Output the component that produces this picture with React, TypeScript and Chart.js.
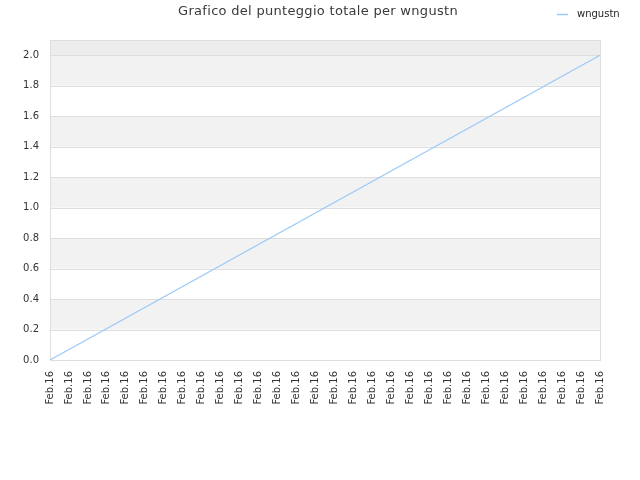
import { useEffect, useRef } from 'react';
import { Chart, registerables } from 'chart.js';

Chart.register(...registerables);

const chartTitle = 'Grafico del punteggio totale per wngustn';
const seriesName = 'wngustn';
const dateLabels = Array(30).fill('Feb.16');
// only the first and last scores are known, the line joins them
const scores: (number | null)[] = [0, ...Array(28).fill(null), 2];
const yTicks = [0, 0.2, 0.4, 0.6, 0.8, 1.0, 1.2, 1.4, 1.6, 1.8, 2.0];
const yMax = 2.1;

const lineColor = '#99c9f7';

const decorPlugin = {
  id: 'decor',
  beforeDatasetsDraw(chart: any) {
    const { ctx, chartArea, scales } = chart;
    const y = scales.y;
    ctx.save();
    // alternating bands
    for (let i = 0; i < yTicks.length - 1; i++) {
      if (i % 2 === 1) {
        const top = y.getPixelForValue(yTicks[i + 1]);
        const bottom = y.getPixelForValue(yTicks[i]);
        ctx.fillStyle = '#f2f2f2';
        ctx.fillRect(chartArea.left, top, chartArea.right - chartArea.left, bottom - top);
      }
    }
    const topBand = y.getPixelForValue(yTicks[yTicks.length - 1]);
    ctx.fillStyle = '#ededed';
    ctx.fillRect(chartArea.left, chartArea.top, chartArea.right - chartArea.left, topBand - chartArea.top);
    // grid lines
    ctx.strokeStyle = '#dedede';
    ctx.lineWidth = 1;
    for (const v of yTicks) {
      const py = Math.round(y.getPixelForValue(v)) + 0.5;
      ctx.beginPath();
      ctx.moveTo(chartArea.left, py);
      ctx.lineTo(chartArea.right, py);
      ctx.stroke();
    }
    ctx.strokeRect(
      Math.round(chartArea.left) + 0.5,
      Math.round(chartArea.top) + 0.5,
      Math.round(chartArea.right - chartArea.left),
      Math.round(chartArea.bottom - chartArea.top)
    );
    ctx.restore();
  },
  afterDraw(chart: any) {
    const { ctx } = chart;
    ctx.save();
    ctx.fillStyle = '#3a3a3a';
    ctx.font = '13px "DejaVu Sans"';
    ctx.letterSpacing = '0.3px';
    ctx.textAlign = 'center';
    ctx.textBaseline = 'middle';
    ctx.fillText(chartTitle, 318, 12);
    ctx.letterSpacing = '0px';
    // legend
    ctx.strokeStyle = lineColor;
    ctx.lineWidth = 1.5;
    ctx.beginPath();
    ctx.moveTo(557, 14.5);
    ctx.lineTo(568, 14.5);
    ctx.stroke();
    ctx.font = '10px "DejaVu Sans"';
    ctx.textAlign = 'left';
    ctx.fillStyle = '#222222';
    ctx.fillText(seriesName, 577, 14);
    ctx.restore();
  },
};

const App = () => {
  const canvasRef = useRef<HTMLCanvasElement | null>(null);
  const chartRef = useRef<Chart | null>(null);

  useEffect(() => {
    if (!canvasRef.current) return;
    if (chartRef.current) chartRef.current.destroy();

    chartRef.current = new Chart(canvasRef.current, {
      type: 'line',
      data: {
        labels: dateLabels,
        datasets: [
          {
            label: seriesName,
            data: scores,
            borderColor: lineColor,
            borderWidth: 1.2,
            pointRadius: 0,
            spanGaps: true,
            tension: 0,
          },
        ],
      },
      options: {
        animation: false,
        responsive: false,
        devicePixelRatio: 1,
        layout: { padding: { top: 40, right: 40, left: 0, bottom: 0 } },
        plugins: {
          legend: { display: false },
          title: { display: false },
          tooltip: { enabled: false },
        },
        scales: {
          x: {
            grid: { display: false, drawTicks: false },
            border: { display: false },
            ticks: {
              autoSkip: false,
              maxRotation: 90,
              minRotation: 90,
              padding: 11,
              color: '#333333',
              font: { family: 'DejaVu Sans', size: 10 },
            },
            afterFit: (s: any) => {
              s.height = 120;
            },
          },
          y: {
            min: 0,
            max: yMax,
            grid: { display: false, drawTicks: false },
            border: { display: false },
            ticks: {
              stepSize: 0.2,
              padding: 11,
              color: '#333333',
              font: { family: 'DejaVu Sans', size: 10 },
              callback: (v: any) => Number(v).toFixed(1),
            },
            afterBuildTicks: (s: any) => {
              s.ticks = yTicks.map((v) => ({ value: v }));
            },
            afterFit: (s: any) => {
              s.width = 50;
            },
          },
        },
      },
      plugins: [decorPlugin],
    });

    return () => {
      if (chartRef.current) {
        chartRef.current.destroy();
        chartRef.current = null;
      }
    };
  }, []);

  return (
    <div style={{ position: 'fixed', left: 0, top: 0, width: 640, height: 480, background: '#fff' }}>
      <canvas ref={canvasRef} width={640} height={480} />
    </div>
  );
};

export default App;
